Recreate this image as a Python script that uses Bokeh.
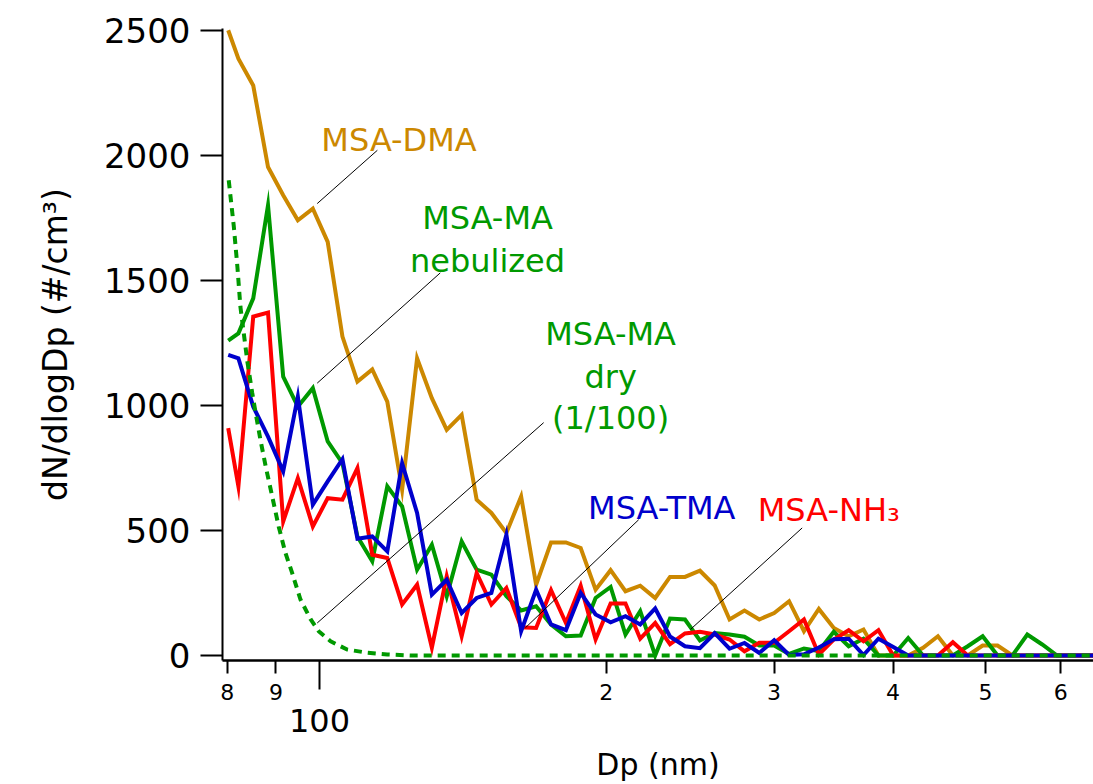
from bokeh.plotting import figure
from bokeh.models import FixedTicker, Label, Range1d, LogAxis
from bokeh.embed import file_html
from bokeh.resources import INLINE

# ---------------- data ----------------
# SMPS channel mid-point diameters (nm)
dp = [80.2, 82.2, 85.2, 88.3, 91.6, 94.9, 98.4, 102.0, 105.7, 109.6,
      113.6, 117.8, 122.1, 126.6, 131.2, 136.0, 141.0, 146.2, 151.5, 157.1,
      162.8, 168.8, 175.0, 181.4, 188.0, 194.9, 202.1, 209.5, 217.1, 225.1,
      233.3, 241.9, 250.8, 259.9, 269.4, 279.3, 289.5, 300.1, 311.1, 322.5,
      334.3, 346.6, 359.3, 372.4, 386.1, 400.2, 414.9, 430.1, 445.8, 462.2,
      479.1, 496.7, 514.9, 533.7, 553.3, 573.6, 594.6, 616.4, 638.9, 662.3]

msa_dma = [2500, 2386, 2279, 1953, 1840, 1740, 1787, 1654, 1275, 1095,
           1144, 1015, 663, 1188, 1029, 902, 962, 623, 570, 490,
           636, 283, 452, 452, 430, 263, 341, 257, 279, 230,
           314, 314, 339, 280, 144, 180, 144, 170, 217, 97,
           186, 110, 77, 104, 0, 0, 0, 31, 77, 0,
           0, 40, 40, 0, 0, 0, 0, 0, 0, 0]

msa_ma_nebulized = [1259, 1288, 1428, 1800, 1115, 995, 1069, 856, 769, 476,
                    377, 676, 596, 343, 443, 237, 456, 343, 323, 237,
                    180, 197, 124, 77, 80, 230, 274, 84, 177, 0,
                    148, 144, 60, 90, 84, 75, 40, 40, 6, 28,
                    18, 95, 37, 67, 0, 0, 70, 0, 0, 0,
                    37, 77, 0, 0, 84, 44, 0, 0, 0, 0]

msa_nh3 = [909, 676, 1355, 1371, 536, 709, 516, 629, 623, 749,
           403, 390, 204, 283, 31, 317, 77, 330, 204, 270,
           113, 110, 261, 130, 279, 64, 208, 208, 67, 130,
           45, 88, 95, 84, 64, 17, 51, 51, 97, 144,
           4, 64, 101, 57, 101, 0, 0, 0, 0, 53,
           0, 0, 0, 0, 0, 0, 0, 0, 0, 0]

msa_tma = [1202, 1188, 995, 875, 736, 1035, 603, 696, 785, 467,
           476, 416, 769, 570, 243, 303, 170, 230, 250, 483,
           97, 263, 124, 101, 250, 164, 133, 157, 124, 188,
           76, 37, 29, 89, 27, 50, 10, 61, 2, 5,
           32, 65, 67, 2, 67, 34, 0, 0, 0, 0,
           0, 0, 0, 0, 0, 0, 0, 0, 0, 0]

# MSA-MA dry (scaled 1/100), smooth dashed curve
dry_dp = [80.3, 81.3, 82.0, 82.6, 84.0, 85.0, 85.7, 86.7, 87.8, 89.2,
          90.6, 92.1, 93.6, 95.5, 97.9, 99.8, 102.7, 106.9, 112.2, 117.8,
          125.0, 200.0, 400.0, 660.0]
msa_ma_dry = [1900, 1714, 1554, 1394, 1175, 1049, 969, 862, 756, 636,
              516, 410, 330, 224, 144, 97, 57, 24, 11, 4,
              0, 0, 0, 0]

# axis ticks
y_ticks = [0, 500, 1000, 1500, 2000, 2500]
x_ticks = [80, 90, 200, 300, 400, 500, 600]
x_tick_labels = ["8", "9", "2", "3", "4", "5", "6"]
x_decade_ticks = [100]
x_decade_labels = ["100"]

# annotations (text, Dp, baseline value, colour)
ann_text = ["MSA-DMA", "MSA-MA", "nebulized", "MSA-MA", "dry", "(1/100)", "MSA-TMA", "MSA-NH\u2083"]
ann_x = [121.2, 150.1, 150.1, 202.1, 202.1, 202.1, 228.7, 342.4]
ann_y = [2060, 1749, 1576, 1286, 1114, 950, 591, 583]
ann_color = ["#CC8800", "#009900", "#009900", "#009900", "#009900", "#009900", "#0000CC", "#FF0000"]

# leader lines (Dp, value) -> (Dp, value)
lead_x0 = [99.45, 99.45, 99.45, 164.5, 245.1]
lead_y0 = [1807, 1089, 130, 111, 104]
lead_x1 = [115.0, 133.9, 171.9, 216.3, 321.1]
lead_y1 = [2020, 1530, 931, 543, 510]

FONT = "DejaVu Sans"

# ---------------- figure ----------------
p = figure(width=1093, height=784, x_axis_type="log",
           x_range=Range1d(79.1, 649.3), y_range=Range1d(-20, 2507),
           output_backend="svg", toolbar_location=None,
           min_border_left=222, min_border_right=0, min_border_top=28, min_border_bottom=123)
p.outline_line_color = None
p.grid.visible = False
p.background_fill_color = "white"
p.border_fill_color = "white"

# y axis
ya = p.yaxis[0]
ya.ticker = FixedTicker(ticks=y_ticks, minor_ticks=[])
ya.major_tick_out = 22
ya.major_tick_in = 0
ya.major_tick_line_width = 2
ya.axis_line_width = 2
ya.major_label_standoff = 10
ya.major_label_text_font = FONT
ya.major_label_text_font_size = "34px"
ya.major_label_text_color = "black"
ya.axis_label = "dN/dlogDp (#/cm\u00b3)"
ya.axis_label_text_font = FONT
ya.axis_label_text_font_size = "33px"
ya.axis_label_text_font_style = "normal"
ya.axis_label_text_color = "black"
ya.axis_label_standoff = 26

# x axis: short labelled ticks (8, 9, 2..6) and a long decade tick at 100
xa = p.xaxis[0]
xa.ticker = FixedTicker(ticks=x_ticks, minor_ticks=x_decade_ticks)
xa.major_label_overrides = {t: s for t, s in zip(x_ticks, x_tick_labels)}
xa.major_tick_out = 13
xa.major_tick_in = 0
xa.minor_tick_out = 29
xa.minor_tick_in = 0
xa.major_tick_line_width = 2
xa.minor_tick_line_width = 2
xa.axis_line_width = 2.5
xa.major_label_standoff = -6
xa.major_label_text_font = FONT
xa.major_label_text_font_size = "22px"
xa.major_label_text_color = "black"

# second row of x labels: the decade label "100" and the axis title
xa2 = LogAxis(ticker=FixedTicker(ticks=x_decade_ticks, minor_ticks=[]))
xa2.major_label_overrides = {t: s for t, s in zip(x_decade_ticks, x_decade_labels)}
xa2.axis_line_color = None
xa2.major_tick_line_color = None
xa2.minor_tick_line_color = None
xa2.major_tick_out = 0
xa2.major_tick_in = 0
xa2.major_label_standoff = 6
xa2.major_label_text_font = FONT
xa2.major_label_text_font_size = "32px"
xa2.major_label_text_color = "black"
xa2.axis_label = "Dp (nm)"
xa2.axis_label_text_font = FONT
xa2.axis_label_text_font_size = "30px"
xa2.axis_label_text_font_style = "normal"
xa2.axis_label_text_color = "black"
xa2.axis_label_standoff = 12
p.add_layout(xa2, "below")

# series
p.line(dp, msa_dma, line_color="#CC8800", line_width=4, line_join="miter")
p.line(dp, msa_ma_nebulized, line_color="#009900", line_width=4, line_join="miter")
p.line(dp, msa_nh3, line_color="#FF0000", line_width=4, line_join="miter")
p.line(dp, msa_tma, line_color="#0000CC", line_width=4, line_join="miter")
p.line(dry_dp, msa_ma_dry, line_color="#009900", line_width=4, line_dash="8 6")

# leader lines
p.segment(x0=lead_x0, y0=lead_y0, x1=lead_x1, y1=lead_y1, line_color="black", line_width=1)

# annotation texts
for t, x, y, c in zip(ann_text, ann_x, ann_y, ann_color):
    p.add_layout(Label(x=x, y=y, text=t, text_align="center", text_baseline="alphabetic",
                       text_font=FONT, text_font_size="32px", text_color=c))

open("out.html", "w").write(file_html(p, INLINE))
